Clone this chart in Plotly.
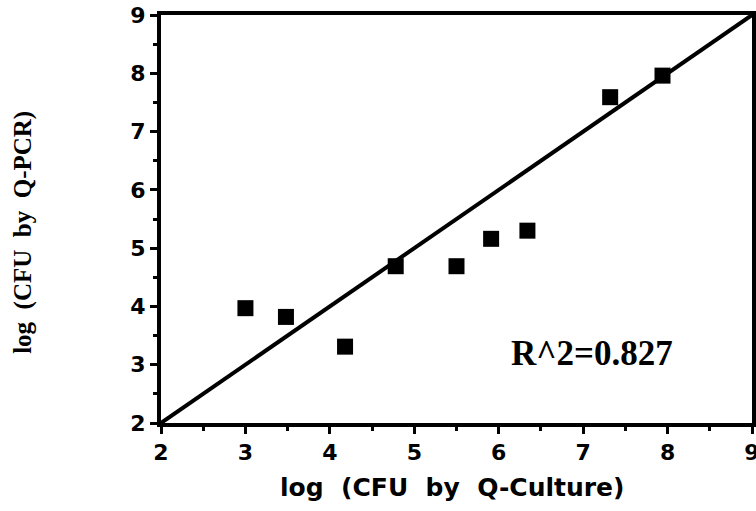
import plotly.graph_objects as go

culture_log = [3.00, 3.48, 4.18, 4.78, 5.50, 5.91, 6.34, 7.32, 7.94]
pcr_log = [3.97, 3.82, 3.31, 4.69, 4.69, 5.16, 5.30, 7.59, 7.96]
fit_x = [2, 9]
fit_y = [2, 9]
tick_vals = [2, 3, 4, 5, 6, 7, 8, 9]
r2_text = "R^2=0.827"
x_title = "log  (CFU  by  Q-Culture)"
y_title = "log  (CFU  by  Q-PCR)"

fig = go.Figure()
fig.add_trace(go.Scatter(x=fit_x, y=fit_y, mode="lines",
                         line=dict(color="black", width=4), showlegend=False))
fig.add_trace(go.Scatter(x=culture_log, y=pcr_log, mode="markers",
                         marker=dict(symbol="square", size=16, color="black",
                                     line=dict(width=0)),
                         showlegend=False))

fig.add_annotation(x=7.11, y=3.2, text="<b>" + r2_text + "</b>", showarrow=False,
                   font=dict(family="Liberation Serif", size=35, color="black"))
fig.add_annotation(xref="paper", yref="paper", x=0.492, y=-0.157, text=x_title,
                   showarrow=False, xanchor="center", yanchor="middle",
                   font=dict(family="DejaVu Sans", size=25, color="black", weight="bold"))
fig.add_annotation(xref="paper", yref="paper", x=0, xshift=-138, y=0.466, text=y_title,
                   textangle=-90, showarrow=False, xanchor="center", yanchor="middle",
                   font=dict(family="Liberation Serif", size=25, color="black", weight="bold"))

axis_common = dict(range=[2, 9], tickvals=tick_vals, showgrid=False, zeroline=False,
                   automargin=False, ticklabeloverflow="allow",
                   showline=True, linecolor="black", linewidth=4, mirror=True,
                   ticks="outside", ticklen=7, tickwidth=3, tickcolor="black",
                   tickfont=dict(family="DejaVu Sans", size=22, color="black", weight="bold"),
                   minor=dict(dtick=0.5, ticks="outside", ticklen=4, tickwidth=3, tickcolor="black"))

fig.update_xaxes(**axis_common)
fig.update_yaxes(**axis_common)

fig.update_layout(width=756, height=511, margin=dict(l=161, r=4, t=15, b=88),
                  plot_bgcolor="white", paper_bgcolor="white")
fig.write_html("out.html", config={"displayModeBar": False},
               post_script="document.body.style.margin='0';document.body.style.overflow='hidden';")
